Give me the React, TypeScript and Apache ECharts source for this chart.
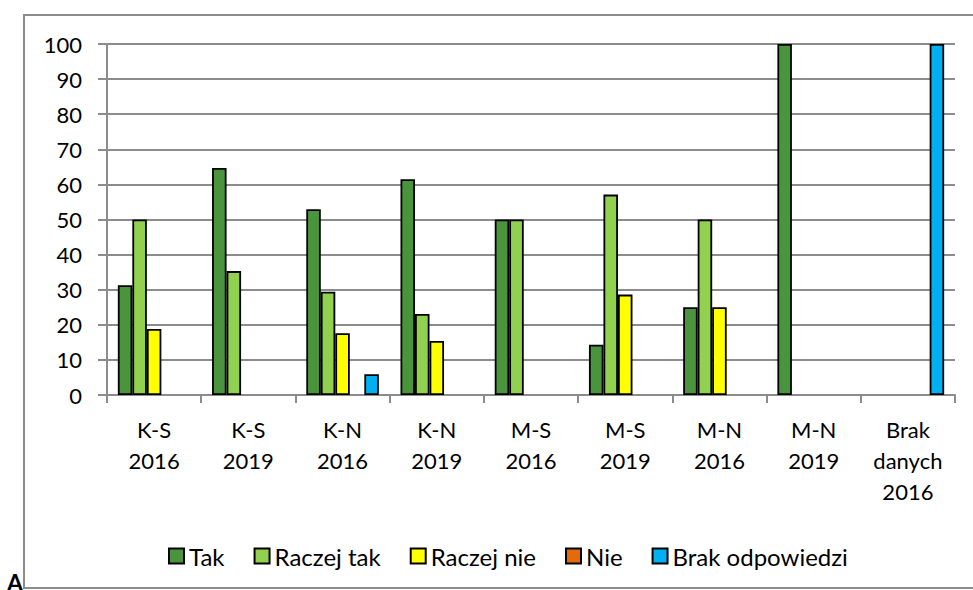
import React, { useEffect, useRef } from "react";
import * as echarts from "echarts";

const categories = [
  "K-S\n2016",
  "K-S\n2019",
  "K-N\n2016",
  "K-N\n2019",
  "M-S\n2016",
  "M-S\n2019",
  "M-N\n2016",
  "M-N\n2019",
  "Brak\ndanych\n2016",
];

const seriesNames = ["Tak", "Raczej tak", "Raczej nie", "Nie", "Brak odpowiedzi"];

const tak = [31.3, 64.7, 52.9, 61.5, 50, 14.3, 25, 100, null];
const raczejTak = [50, 35.3, 29.4, 23.1, 50, 57.1, 50, null, null];
const raczejNie = [18.8, null, 17.6, 15.4, null, 28.6, 25, null, null];
const nie = [null, null, null, null, null, null, null, null, null];
const brakOdpowiedzi = [null, null, 5.9, null, null, null, null, null, 100];

const colors = ["#4A943D", "#92D050", "#FFFF00", "#E36C09", "#00B0F0"];

const yTicks = { min: 0, max: 100, interval: 10 };

const FONT = "Lato, 'Open Sans', sans-serif";

export default function App() {
  const ref = useRef<HTMLDivElement>(null);

  useEffect(() => {
    if (!ref.current) return;
    const chart = echarts.init(ref.current, null, { renderer: "svg" });
    const dataSets = [tak, raczejTak, raczejNie, nie, brakOdpowiedzi];
    chart.setOption({
      animation: false,
      textStyle: { fontFamily: FONT },
      grid: { left: 107, right: 18, top: 44, bottom: 195, containLabel: false },
      graphic: [
        {
          type: "rect",
          shape: { x: 24, y: 15, width: 960, height: 573 },
          style: { fill: "none", stroke: "#8C8C8C", lineWidth: 2 },
          silent: true,
        },
        {
          type: "text",
          x: 7,
          y: 570,
          style: { text: "A", fontSize: 23, fontWeight: "bold", fontFamily: FONT, fill: "#000" },
          silent: true,
        },
      ],
      legend: {
        left: 163,
        top: 539,
        itemWidth: 15,
        itemHeight: 15,
        itemGap: 29,
        icon: "rect",
        textStyle: { fontSize: 24, color: "#000", fontFamily: FONT },
        data: seriesNames,
      },
      xAxis: {
        type: "category",
        data: categories,
        axisLine: { lineStyle: { color: "#8C8C8C", width: 2 } },
        axisTick: { show: true, length: 8, lineStyle: { color: "#8C8C8C", width: 2 } },
        axisLabel: {
          color: "#000",
          fontSize: 22,
          lineHeight: 31,
          margin: 19,
          fontFamily: FONT,
          interval: 0,
        },
      },
      yAxis: {
        type: "value",
        min: yTicks.min,
        max: yTicks.max,
        interval: yTicks.interval,
        axisLine: { show: true, lineStyle: { color: "#8C8C8C", width: 2 } },
        axisTick: { show: true, length: 9, lineStyle: { color: "#8C8C8C", width: 2 } },
        splitLine: { lineStyle: { color: "#8C8C8C", width: 2 } },
        axisLabel: { color: "#000", fontSize: 22, margin: 25, fontFamily: FONT },
      },
      series: seriesNames.map((name, i) => ({
        name,
        type: "bar",
        data: dataSets[i],
        barGap: "0%",
        barCategoryGap: "23%",
        itemStyle: { color: colors[i], borderColor: "#000", borderWidth: 1.8 },
      })),
    });
    return () => chart.dispose();
  }, []);

  return (
    <div
      ref={ref}
      style={{ position: "fixed", left: 0, top: 0, width: 973, height: 590, background: "#fff" }}
    />
  );
}
